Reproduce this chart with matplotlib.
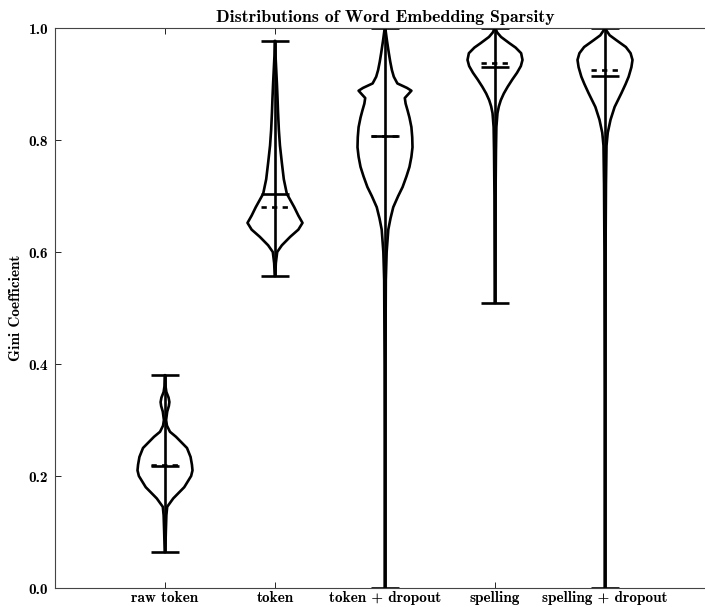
import numpy as np
import matplotlib
matplotlib.use("Agg")
import matplotlib.pyplot as plt

plt.rcParams['font.family'] = ['cmb10', 'DejaVu Serif']
plt.rcParams['axes.formatter.use_mathtext'] = True

labels = ["raw token", "token", "token + dropout", "spelling", "spelling + dropout"]

# summary values
mins = [0.064, 0.557, 0.0, 0.509, 0.0]
maxs = [0.380, 0.977, 1.0, 1.0, 1.0]
means = [0.219, 0.680, 0.807, 0.937, 0.925]
medians = [0.217, 0.704, 0.807, 0.931, 0.914]

# density outlines (gini value, relative half-width)
raw_y = [0.064, 0.10, 0.13, 0.145, 0.16, 0.18, 0.20, 0.21, 0.22, 0.234, 0.25,
         0.259, 0.27, 0.279, 0.29, 0.30, 0.315, 0.325, 0.332, 0.34, 0.35, 0.36, 0.38]
raw_w = [0.01, 0.03, 0.05, 0.08, 0.3, 0.7, 0.95, 1.0, 0.98, 0.93, 0.8,
         0.62, 0.4, 0.18, 0.07, 0.04, 0.08, 0.14, 0.16, 0.13, 0.05, 0.02, 0.01]

tok_y = [0.557, 0.58, 0.60, 0.612, 0.627, 0.64, 0.652, 0.665, 0.68, 0.704, 0.73,
         0.759, 0.79, 0.818, 0.85, 0.877, 0.90, 0.92, 0.95, 0.977]
tok_w = [0.01, 0.03, 0.08, 0.25, 0.55, 0.85, 1.0, 0.85, 0.70, 0.43, 0.32,
         0.25, 0.18, 0.14, 0.11, 0.09, 0.07, 0.05, 0.02, 0.01]

tokd_y = [0.0, 0.2, 0.4, 0.55, 0.60, 0.64, 0.66, 0.68, 0.70, 0.716, 0.735, 0.752,
          0.77, 0.787, 0.805, 0.823, 0.84, 0.853, 0.865, 0.875, 0.882, 0.888,
          0.893, 0.901, 0.913, 0.925, 0.94, 0.955, 0.978, 1.0]
tokd_w = [0.005, 0.01, 0.015, 0.03, 0.06, 0.12, 0.2, 0.3, 0.48, 0.64, 0.78, 0.89,
          0.96, 1.0, 0.99, 0.96, 0.89, 0.82, 0.75, 0.72, 0.85, 0.96,
          0.8, 0.45, 0.32, 0.25, 0.19, 0.14, 0.07, 0.01]

spel_y = [0.509, 0.6, 0.7, 0.78, 0.823, 0.848, 0.86, 0.871, 0.883, 0.895, 0.908,
          0.92, 0.932, 0.943, 0.955, 0.965, 0.973, 0.984, 0.992, 1.0]
spel_w = [0.01, 0.015, 0.02, 0.035, 0.05, 0.09, 0.14, 0.21, 0.32, 0.46, 0.63,
          0.80, 0.94, 1.0, 0.95, 0.75, 0.52, 0.22, 0.08, 0.01]

speld_y = [0.0, 0.3, 0.6, 0.72, 0.79, 0.813, 0.836, 0.859, 0.884, 0.90, 0.913,
           0.93, 0.943, 0.955, 0.966, 0.978, 0.987, 0.995, 1.0]
speld_w = [0.005, 0.01, 0.02, 0.035, 0.055, 0.1, 0.2, 0.35, 0.6, 0.75, 0.86,
           0.96, 1.0, 0.93, 0.76, 0.42, 0.17, 0.06, 0.02]

profiles = [(raw_y, raw_w), (tok_y, tok_w), (tokd_y, tokd_w),
            (spel_y, spel_w), (speld_y, speld_w)]

vpstats = []
for i, (ys, ws) in enumerate(profiles):
    vpstats.append({
        'coords': np.array(ys),
        'vals': np.array(ws),
        'mean': means[i],
        'median': medians[i],
        'min': mins[i],
        'max': maxs[i],
    })

positions = np.arange(1, len(labels) + 1)

fig = plt.figure(figsize=(7.05, 6.07), dpi=100)
ax = fig.add_axes([55 / 705, 19 / 607, 660 / 705, 560 / 607])

parts = ax.violin(vpstats, positions=positions, widths=0.5,
                  showmeans=True, showextrema=True, showmedians=True)

for body in parts['bodies']:
    body.set_facecolor('none')
    body.set_edgecolor('black')
    body.set_linewidth(1.9)
    body.set_alpha(1)

for key in ['cbars', 'cmins', 'cmaxes', 'cmedians', 'cmeans']:
    parts[key].set_color('black')
    parts[key].set_linewidth(1.9)
parts['cmeans'].set_linestyle((0, (2, 2)))

ax.set_xlim(0, 6)
ax.set_ylim(0, 1)
ax.set_xticks(positions)
ax.set_xticklabels(labels, fontsize=11)
ax.set_yticks([0.0, 0.2, 0.4, 0.6, 0.8, 1.0])
ax.set_yticklabels(['0.0', '0.2', '0.4', '0.6', '0.8', '1.0'], fontsize=11)
ax.tick_params(direction='in', length=4, width=0.6, top=True, right=False)
ax.tick_params(axis='x', pad=2)
ax.tick_params(axis='y', pad=5)
for sp in ax.spines.values():
    sp.set_linewidth(0.8)
    sp.set_color('#444444')

ax.set_ylabel('Gini Coefficient', fontsize=11, labelpad=4)
ax.set_title('Distributions of Word Embedding Sparsity', fontsize=12.8, pad=4)

fig.savefig('out.png', dpi=100)
